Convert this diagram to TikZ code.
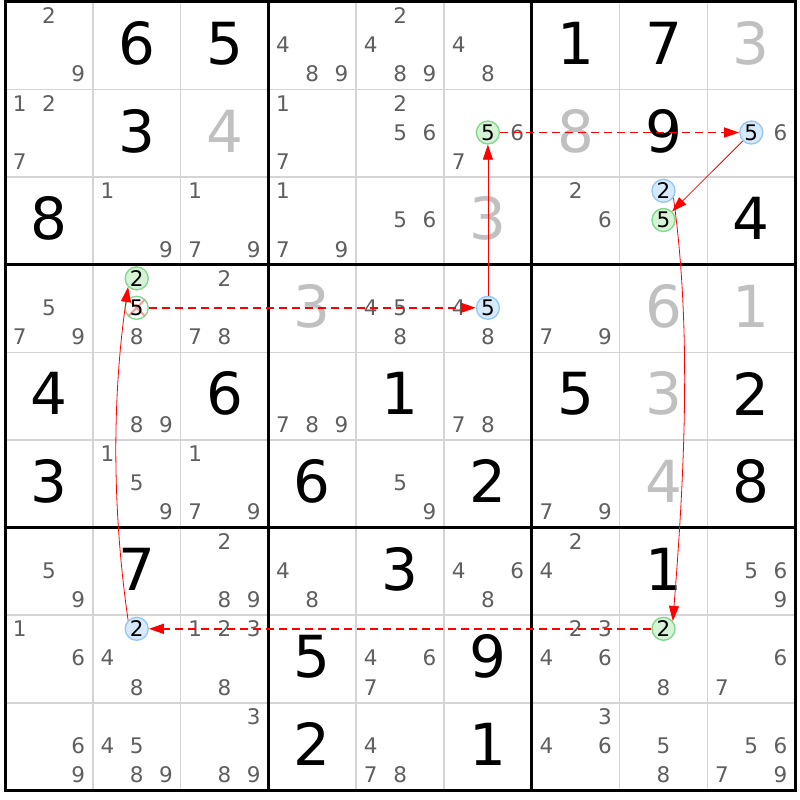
\documentclass[tikz,border=0pt]{standalone}
\usepackage{fontspec}
\setmainfont{DejaVu Sans}
\usetikzlibrary{arrows.meta}
\definecolor{candcol}{HTML}{5F5F5F}
\definecolor{solvedcol}{HTML}{C0C0C0}
\definecolor{thincol}{HTML}{D4D4D4}
\definecolor{gfill}{HTML}{D6F3D6}
\definecolor{gline}{HTML}{7CD88A}
\definecolor{bfill}{HTML}{D6EAFB}
\definecolor{bline}{HTML}{92C6F5}
\definecolor{xpink}{HTML}{F29A9A}
\definecolor{linkred}{HTML}{FF0000}
\tikzset{
  givenstyle/.style={font=\fontsize{58}{58}\selectfont, text=black, inner sep=0pt},
  solvedstyle/.style={givenstyle, text=solvedcol},
  candstyle/.style={font=\fontsize{21.5}{21.5}\selectfont, text=candcol, inner sep=0pt},
  gcirc/.style={circle, draw=gline, fill=gfill, line width=1.3pt, minimum size=23pt, inner sep=0pt, font=\fontsize{21.5}{21.5}\selectfont, text=black},
  bcirc/.style={gcirc, draw=bline, fill=bfill},
  xcirc/.style={gcirc, fill=white, path picture={
      \draw[xpink, line width=1.8pt]
        (path picture bounding box.north west) -- (path picture bounding box.south east)
        (path picture bounding box.north east) -- (path picture bounding box.south west);}},
  thinline/.style={draw=thincol, line width=1.5pt},
  thickline/.style={draw=black, line width=3pt},
  weaklink/.style={draw=linkred, line width=1.5pt, dash pattern=on 8pt off 5pt, -{Triangle[length=15pt,width=10pt]}},
  stronglink/.style={draw=linkred, line width=0.8pt, -{Triangle[length=15pt,width=10pt]}},
}
\begin{document}
\begin{tikzpicture}[x=1pt,y=-1pt]
\fill[white] (0,0) rectangle (800,800);
\useasboundingbox (0,0) rectangle (800,800);
% grid
\foreach \i in {1,2,4,5,7,8} {
  \draw[thinline] ({5+\i*87.8},2) -- ({5+\i*87.8},790.4);
  \draw[thinline] (5,{2+\i*87.6}) -- (795.2,{2+\i*87.6});
}
\foreach \i in {0,3,6,9} {
  \draw[thickline] ({5+\i*87.8},0.5) -- ({5+\i*87.8},791.9);
  \draw[thickline] (3.5,{2+\i*87.6}) -- (796.7,{2+\i*87.6});
}
% given digits
\foreach \R/\C/\D in {1/2/6,1/3/5,1/7/1,1/8/7,2/2/3,2/8/9,3/1/8,3/9/4,5/1/4,5/3/6,5/5/1,5/7/5,5/9/2,6/1/3,6/4/6,6/6/2,6/9/8,7/2/7,7/5/3,7/8/1,8/4/5,8/6/9,9/4/2,9/6/1} {
  \node[givenstyle, name=g\R\C] at ({5+(\C-0.5)*87.8},{2+(\R-0.5)*87.6-2.5}) {\D};
}
% solved digits (gray)
\foreach \R/\C/\D in {1/9/3,2/3/4,2/7/8,3/6/3,4/4/3,4/8/6,4/9/1,5/8/3,6/8/4} {
  \node[solvedstyle, name=s\R\C] at ({5+(\C-0.5)*87.8},{2+(\R-0.5)*87.6-2.5}) {\D};
}
% candidates
\foreach \R/\C/\L in {1/1/{2,9},1/4/{4,8,9},1/5/{2,4,8,9},1/6/{4,8},
  2/1/{1,2,7},2/4/{1,7},2/5/{2,5,6},2/6/{6,7},2/9/{6},
  3/2/{1,9},3/3/{1,7,9},3/4/{1,7,9},3/5/{5,6},3/7/{2,6},
  4/1/{5,7,9},4/2/{8},4/3/{2,7,8},4/5/{4,5,8},4/6/{4,8},4/7/{7,9},
  5/2/{8,9},5/4/{7,8,9},5/6/{7,8},
  6/2/{1,5,9},6/3/{1,7,9},6/5/{5,9},6/7/{7,9},
  7/1/{5,9},7/3/{2,8,9},7/4/{4,8},7/6/{4,6,8},7/7/{2,4},7/9/{5,6,9},
  8/1/{1,6},8/2/{4,8},8/3/{1,2,3,8},8/5/{4,6,7},8/7/{2,3,4,6},8/8/{8},8/9/{6,7},
  9/1/{6,9},9/2/{4,5,8,9},9/3/{3,8,9},9/5/{4,7,8},9/7/{3,4,6},9/8/{5,8},9/9/{5,6,7,9}} {
  \foreach \D in \L {
    \pgfmathtruncatemacro\kc{mod(\D-1,3)}
    \pgfmathtruncatemacro\kr{(\D-1)/3}
    \node[candstyle, name=k\R\C\D] at ({5+(\C-1)*87.8+14.63+\kc*29.27},{2+(\R-1)*87.6+13.6+\kr*29.2}) {\D};
  }
}
% highlighted candidates
\node[gcirc, name=G26] at (487.9,132.5) {5};
\node[bcirc, name=B29] at (751.3,132.5) {5};
\node[bcirc, name=B38] at (663.5,190.8) {2};
\node[gcirc, name=G38] at (663.5,220.0) {5};
\node[gcirc, name=G42] at (136.7,278.4) {2};
\node[xcirc, name=X42] at (136.7,307.8) {5};
\node[bcirc, name=B46] at (487.9,307.8) {5};
\node[gcirc, name=G88] at (663.5,628.8) {2};
\node[bcirc, name=B82] at (136.7,628.8) {2};
% links
\draw[weaklink] (X42.east) -- (B46.west);
\draw[weaklink] (G26.east) -- (B29.west);
\draw[stronglink] (B29.225) -- (G38.45);
\draw[stronglink] (B38.-35) .. controls +(18,130) and +(12,-150) .. (G88.40);
\draw[weaklink] (G88.west) -- (B82.east);
\draw[stronglink] (B82.135) .. controls +(-16,-110) and +(-16,110) .. (G42.225);
\draw[stronglink] (B46.north) -- (G26.south);
\end{tikzpicture}
\end{document}
